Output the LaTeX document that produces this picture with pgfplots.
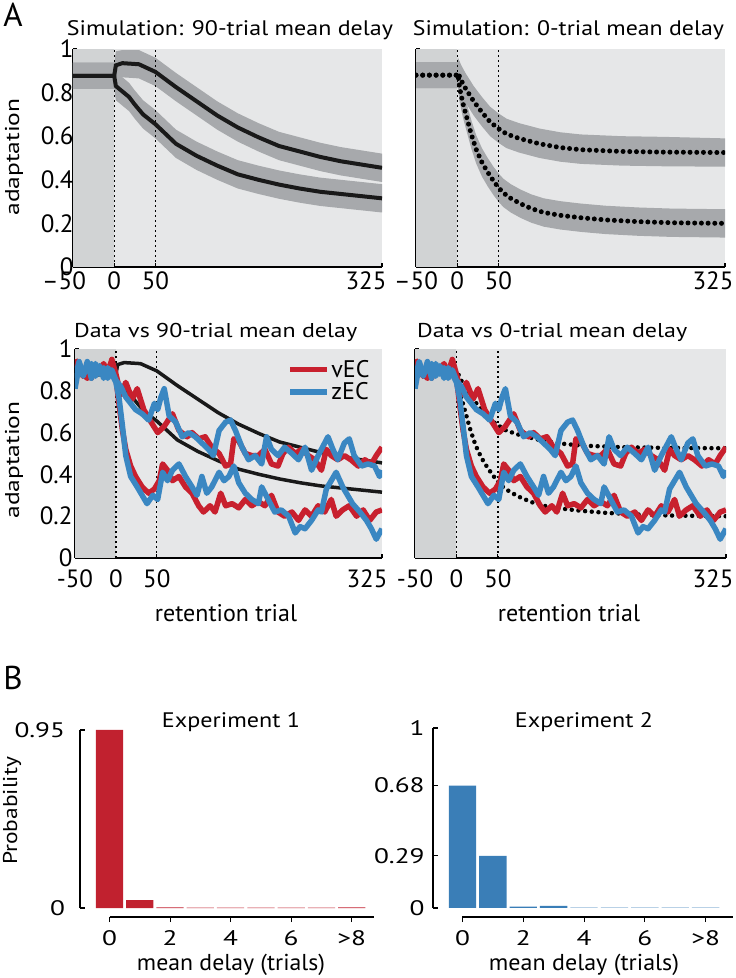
\documentclass[border=0pt]{standalone}
\usepackage{fontspec}
\setmainfont{PT Sans}
\usepackage{graphicx}
\usepackage{pgfplots}
\pgfplotsset{compat=1.18}
\usepackage{pgfplotstable}

\definecolor{bglight}{HTML}{E6E7E8}
\definecolor{bgdark}{HTML}{D1D3D4}
\definecolor{bandgray}{HTML}{A7A9AC}
\definecolor{vec}{HTML}{C8202E}
\definecolor{zec}{HTML}{3A87C2}
\definecolor{barred}{HTML}{C1212F}
\definecolor{barblue}{HTML}{3A7EB7}

% simulated means: 90-trial delay
\pgfplotstableread{
t m
-50 0.877
0 0.877
2 0.925
10 0.935
30 0.930
50 0.895
75 0.825
100 0.760
125 0.695
150 0.640
175 0.595
200 0.555
225 0.530
250 0.505
275 0.485
300 0.470
325 0.455
}\tlA
\pgfplotstableread{
t m
-50 0.877
0 0.877
2 0.830
10 0.805
18 0.780
25 0.745
35 0.700
50 0.655
75 0.565
100 0.510
125 0.465
150 0.425
175 0.400
200 0.378
225 0.360
250 0.345
275 0.335
300 0.325
325 0.315
}\tlB
% 0-trial delay
\pgfplotstableread{
t m
-50 0.880
0 0.880
1 0.890
5 0.855
10 0.820
15 0.790
20 0.760
25 0.735
30 0.710
40 0.665
50 0.635
60 0.610
75 0.590
100 0.565
125 0.548
150 0.538
200 0.530
250 0.527
325 0.525
}\trA
\pgfplotstableread{
t m
-50 0.880
0 0.880
1 0.885
3 0.820
7 0.750
12 0.680
17 0.610
23 0.540
30 0.480
37 0.435
44 0.395
50 0.365
56 0.340
65 0.315
77 0.290
90 0.268
105 0.250
125 0.237
150 0.226
180 0.216
220 0.208
260 0.203
325 0.200
}\trB
% data traces
\pgfplotstableread{
t v
-50 0.95
-45 0.90
-40 0.87
-35 0.88
-30 0.86
-25 0.92
-20 0.90
-15 0.93
-10 0.88
-5 0.95
0 0.88
6 0.78
12 0.84
20 0.76
26 0.81
34 0.71
43 0.65
51 0.60
59 0.63
69 0.69
77 0.61
87 0.58
93 0.60
101 0.57
109 0.58
117 0.53
126 0.50
134 0.44
140 0.45
144 0.57
150 0.56
158 0.50
166 0.49
174 0.49
182 0.52
190 0.45
198 0.44
204 0.50
211 0.53
219 0.50
227 0.52
235 0.49
243 0.47
251 0.42
257 0.52
263 0.49
271 0.47
279 0.49
287 0.47
296 0.44
304 0.47
312 0.45
318 0.49
325 0.53
}\redA
\pgfplotstableread{
t v
-50 0.81
-45 0.92
-40 0.87
-35 0.94
-30 0.86
-25 0.93
-20 0.88
-15 0.91
-10 0.86
-5 0.90
0 0.85
6 0.82
12 0.77
18 0.74
24 0.71
32 0.69
40 0.66
47 0.74
51 0.71
55 0.77
59 0.81
65 0.68
73 0.65
81 0.58
89 0.60
97 0.58
105 0.55
113 0.52
119 0.49
126 0.61
134 0.65
140 0.66
146 0.61
154 0.53
162 0.47
170 0.49
178 0.45
184 0.58
190 0.52
198 0.49
206 0.53
215 0.50
223 0.47
231 0.53
239 0.42
247 0.49
255 0.55
259 0.58
265 0.52
271 0.47
279 0.55
285 0.57
291 0.49
300 0.44
308 0.45
316 0.44
322 0.39
325 0.42
}\blueA
\pgfplotstableread{
t v
-50 0.93
-45 0.91
-40 0.88
-35 0.86
-30 0.89
-25 0.91
-20 0.89
-15 0.92
-10 0.90
-5 0.94
0 0.86
4 0.73
8 0.61
12 0.52
18 0.44
24 0.39
32 0.34
40 0.31
47 0.33
53 0.37
57 0.45
63 0.42
69 0.37
77 0.39
85 0.34
93 0.31
101 0.25
107 0.22
115 0.25
121 0.22
128 0.31
134 0.25
142 0.26
150 0.24
158 0.28
166 0.25
174 0.27
182 0.25
190 0.30
198 0.22
206 0.20
215 0.22
223 0.18
231 0.23
239 0.20
247 0.25
255 0.22
263 0.28
269 0.20
277 0.23
285 0.25
294 0.20
302 0.23
310 0.18
318 0.22
325 0.23
}\redB
\pgfplotstableread{
t v
-50 0.86
-45 0.94
-40 0.88
-35 0.90
-30 0.93
-25 0.87
-20 0.92
-15 0.86
-10 0.91
-5 0.88
0 0.84
4 0.76
8 0.63
12 0.49
18 0.39
26 0.34
32 0.30
38 0.26
45 0.30
51 0.28
57 0.41
63 0.37
69 0.42
77 0.45
85 0.39
93 0.34
99 0.30
105 0.39
111 0.31
117 0.34
126 0.41
132 0.37
138 0.39
144 0.44
150 0.36
158 0.31
166 0.28
174 0.26
178 0.34
186 0.28
194 0.22
202 0.23
211 0.20
219 0.12
225 0.15
231 0.14
239 0.18
247 0.23
251 0.22
257 0.33
263 0.37
269 0.41
277 0.34
283 0.30
289 0.26
298 0.22
306 0.18
312 0.14
318 0.09
325 0.14
}\blueB

\pgfplotsset{
  /pgf/number format/assume math mode=true,
  panel/.style={
    anchor=south west, scale only axis,
    xmin=-50, xmax=325, ymin=0, ymax=1,
    axis x line*=bottom, axis y line*=left,
    axis line style={-, line width=1.3pt},
    tick style={black, line width=1.1pt},
    tick align=inside, major tick length=4pt,
    xtick={-50,0,50},
    extra x ticks={325}, extra x tick labels={325},
    ytick={0,0.2,0.4,0.6,0.8,1},
    tick label style={font=\fontsize{25}{28}\selectfont},
    axis background/.style={fill=bglight},
    no markers,
  },
  dots/.style={black, line width=5pt, line cap=round, dash pattern=on 0pt off 6.7pt},
  band/.style={fill=bandgray, draw=none},
  trace/.style={line width=5.5pt, line join=round},
  bpanel/.style={
    anchor=south west, scale only axis, clip=false,
    axis x line*=bottom, axis y line*=left,
    axis line style={draw=none},
    tick style={black, line width=1.1pt},
    tick align=inside, major tick length=5pt,
    xtick={0,2,4,6,8}, xticklabels={0,2,4,6,>8},
    tick label style={font=\fontsize{21}{24}\selectfont, xscale=1.3},
    xticklabel style={yshift=-5pt},
    ybar, bar width=0.9,
  },
}

\newcommand{\darkzone}{\fill[bgdark] (axis cs:-50,0) rectangle (axis cs:0,1);}
\newcommand{\vlines}{%
  \draw[black, line width=1.2pt, dash pattern=on 2pt off 3pt] (axis cs:0,0) -- (axis cs:0,1);
  \draw[black, line width=1.2pt, dash pattern=on 2pt off 3pt] (axis cs:50,0) -- (axis cs:50,1);}
% text set at a size and stretched to the width it has in the figure
\newcommand{\fitw}[3]{{\fontsize{#2}{#2}\selectfont\resizebox{#1}{\height}{#3}}}

\begin{document}
\begin{tikzpicture}
\useasboundingbox (0,0) rectangle (736pt,978pt);

% ---- A, top left
\begin{axis}[panel, at={(73pt,711pt)}, width=309pt, height=218pt,
  xticklabels={\hspace*{-18pt}\textendash50,0,50}, yticklabel style={xshift=4pt},
  xticklabel style={yshift=-1pt},
  extra x tick style={xticklabel style={xshift=-16pt}}]
\darkzone
% bands: upper edge forward, lower edge back
\addplot[band] coordinates {(-50,0.937) (0,0.937) (2,0.990) (10,0.995) (30,0.995) (50,0.960) (75,0.890) (100,0.825) (125,0.760) (150,0.705) (175,0.660) (200,0.620) (225,0.595) (250,0.570) (275,0.550) (300,0.535) (325,0.520)
  (325,0.390) (300,0.405) (275,0.420) (250,0.440) (225,0.465) (200,0.490) (175,0.530) (150,0.575) (125,0.630) (100,0.695) (75,0.760) (50,0.830) (30,0.865) (10,0.870) (2,0.860) (0,0.817) (-50,0.817)};
\addplot[band] coordinates {(-50,0.937) (0,0.937) (2,0.895) (10,0.870) (18,0.845) (25,0.810) (35,0.765) (50,0.720) (75,0.630) (100,0.575) (125,0.530) (150,0.490) (175,0.465) (200,0.443) (225,0.425) (250,0.410) (275,0.400) (300,0.390) (325,0.380)
  (325,0.250) (300,0.260) (275,0.270) (250,0.280) (225,0.295) (200,0.313) (175,0.335) (150,0.360) (125,0.400) (100,0.445) (75,0.500) (50,0.590) (35,0.635) (25,0.680) (18,0.715) (10,0.740) (2,0.765) (0,0.817) (-50,0.817)};
\vlines
\addplot[black!90, line width=4pt] table[x=t,y=m]{\tlA};
\addplot[black!90, line width=4pt] table[x=t,y=m]{\tlB};
\end{axis}

% ---- A, top right
\begin{axis}[panel, at={(416pt,711pt)}, width=309pt, height=218pt,
  xticklabels={\textendash50,0,50}, yticklabels={}, xticklabel style={yshift=-1pt},
  extra x tick style={xticklabel style={xshift=-12pt}}]
\darkzone
\addplot[band] coordinates {(-50,0.940) (0,0.940) (1,0.960) (5,0.925) (10,0.890) (15,0.860) (20,0.830) (25,0.805) (30,0.780) (40,0.735) (50,0.705) (60,0.680) (75,0.660) (100,0.635) (125,0.618) (150,0.608) (200,0.600) (250,0.597) (325,0.590)
  (325,0.460) (250,0.462) (200,0.465) (150,0.473) (125,0.483) (100,0.500) (75,0.525) (60,0.545) (50,0.570) (40,0.600) (30,0.645) (25,0.670) (20,0.695) (15,0.725) (10,0.755) (5,0.790) (1,0.825) (0,0.820) (-50,0.820)};
\addplot[band] coordinates {(-50,0.940) (0,0.940) (1,0.950) (3,0.885) (7,0.815) (12,0.745) (17,0.675) (23,0.605) (30,0.545) (37,0.500) (44,0.460) (50,0.430) (56,0.405) (65,0.380) (77,0.355) (90,0.333) (105,0.315) (125,0.302) (150,0.291) (180,0.281) (220,0.273) (260,0.268) (325,0.265)
  (325,0.135) (260,0.138) (220,0.143) (180,0.151) (150,0.161) (125,0.172) (105,0.185) (90,0.203) (77,0.225) (65,0.250) (56,0.275) (50,0.300) (44,0.330) (37,0.370) (30,0.415) (23,0.475) (17,0.545) (12,0.615) (7,0.685) (3,0.755) (1,0.820) (0,0.820) (-50,0.820)};
\vlines
\addplot[dots] table[x=t,y=m]{\trA};
\addplot[dots] table[x=t,y=m]{\trB};
\end{axis}

% ---- A, bottom left
\begin{axis}[panel, at={(75pt,420pt)}, width=307pt, height=209pt,
  xticklabels={-50,0,50}, xticklabel style={yshift=-8pt}, yticklabel style={xshift=1pt},
  extra x tick style={xticklabel style={xshift=-15pt}},
  legend style={at={(0.965,0.955)}, anchor=north east, draw=none, fill=none,
    font=\fontsize{24}{26}\selectfont, row sep=1pt, inner sep=0pt,
    nodes={inner sep=1.5pt}},
  legend cell align=left,
  legend image code/.code={\draw[line width=5.5pt] (0pt,0pt) -- (37pt,0pt);}]
\darkzone
\vlines
\addplot[black!90, line width=3.5pt, forget plot] table[x=t,y=m]{\tlA};
\addplot[black!90, line width=3.5pt, forget plot] table[x=t,y=m]{\tlB};
\addplot[vec, trace] table[x=t,y=v]{\redA};
\addplot[vec, trace, forget plot] table[x=t,y=v]{\redB};
\addplot[zec, trace] table[x=t,y=v]{\blueA};
\addplot[zec, trace, forget plot] table[x=t,y=v]{\blueB};
\legend{vEC,zEC}
\end{axis}

% ---- A, bottom right
\begin{axis}[panel, at={(415pt,420pt)}, width=311pt, height=209pt,
  xticklabels={-50,0,50}, xticklabel style={yshift=-8pt}, yticklabels={},
  extra x tick style={xticklabel style={xshift=-13pt}}]
\darkzone
\vlines
\addplot[dots, line width=4.5pt] table[x=t,y=m]{\trA};
\addplot[dots, line width=4.5pt] table[x=t,y=m]{\trB};
\addplot[vec, trace] table[x=t,y=v]{\redA};
\addplot[vec, trace] table[x=t,y=v]{\redB};
\addplot[zec, trace] table[x=t,y=v]{\blueA};
\addplot[zec, trace] table[x=t,y=v]{\blueB};
\end{axis}

% ---- B, experiment 1
\begin{axis}[bpanel, at={(80pt,61pt)}, width=302pt, height=187pt,
  xmin=-0.975, xmax=9, ymin=-0.048, ymax=0.95,
  ytick={0,0.95}, yticklabels={0,0.95}, yticklabel style={xshift=-8pt}]
\addplot[fill=barred, draw=none] coordinates {(0,0.95) (1,0.042) (2,0.004) (3,0.002) (4,0.002) (5,0.002) (6,0.002) (7,0.002) (8,0.004)};
\draw[line width=1.3pt] (axis cs:0,-0.048) -- (axis cs:8.75,-0.048);
\draw[line width=1.3pt] (axis cs:-0.975,0) -- (axis cs:-0.975,0.95);
\end{axis}

% ---- B, experiment 2
\begin{axis}[bpanel, at={(433pt,61pt)}, width=300pt, height=189pt,
  xmin=-0.97, xmax=8.9, ymin=-0.05, ymax=1,
  ytick={0,0.29,0.68,1}, yticklabels={0,0.29,0.68,1}, yticklabel style={xshift=-3pt}]
\addplot[fill=barblue, draw=none] coordinates {(0,0.68) (1,0.29) (2,0.008) (3,0.012) (4,0.002) (5,0.002) (6,0.002) (7,0.002) (8,0.002)};
\draw[line width=1.3pt] (axis cs:0,-0.05) -- (axis cs:8.9,-0.05);
\draw[line width=1.3pt] (axis cs:-0.97,0) -- (axis cs:-0.97,1);
\end{axis}

% ---- text
\node[font=\fontsize{33}{36}\selectfont] at (13pt,963pt) {A};
\node[font=\fontsize{33}{36}\selectfont] at (13pt,300pt) {B};
\node[anchor=base, inner sep=0pt] at (230pt,942pt) {\fitw{326pt}{21}{Simulation: 90-trial mean delay}};
\node[anchor=base, inner sep=0pt] at (568.5pt,942pt) {\fitw{311pt}{21}{Simulation: 0-trial mean delay}};
\node[anchor=base west, inner sep=0pt] at (74pt,640pt) {\fitw{283pt}{20}{Data vs 90-trial mean delay}};
\node[anchor=base west, inner sep=0pt] at (417pt,640pt) {\fitw{270pt}{20}{Data vs 0-trial mean delay}};
\node[rotate=90, inner sep=0pt] at (14pt,821pt) {\fitw{117pt}{20}{adaptation}};
\node[rotate=90, inner sep=0pt] at (14pt,518pt) {\fitw{117pt}{20}{adaptation}};
\node[inner sep=0pt] at (226pt,365pt) {\fitw{142pt}{24}{retention trial}};
\node[inner sep=0pt] at (569pt,365pt) {\fitw{142pt}{24}{retention trial}};
\node[inner sep=0pt] at (231pt,256pt) {\fitw{138pt}{21}{Experiment 1}};
\node[inner sep=0pt] at (584pt,256pt) {\fitw{138pt}{21}{Experiment 2}};
\node[rotate=90, inner sep=0pt] at (12pt,167pt) {\fitw{108pt}{20}{Probability}};
\node[inner sep=0pt] at (231pt,13pt) {\fitw{188pt}{23}{mean delay (trials)}};
\node[inner sep=0pt] at (584pt,13pt) {\fitw{190pt}{23}{mean delay (trials)}};
\end{tikzpicture}
\end{document}
